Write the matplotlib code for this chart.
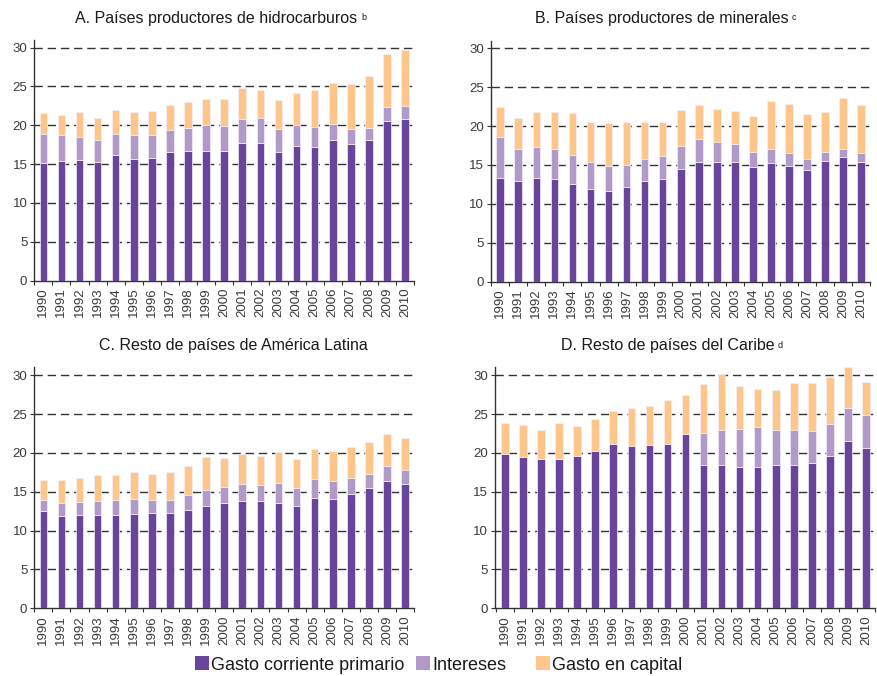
import numpy as np
import matplotlib
matplotlib.use("Agg")
import matplotlib.pyplot as plt
from matplotlib.patches import Patch

plt.rcParams['font.family'] = ['Liberation Sans', 'DejaVu Sans']

years = [str(y) for y in range(1990, 2011)]

# A. Países productores de hidrocarburos
a_corriente = [15.2, 15.4, 15.5, 15.3, 16.2, 15.7, 15.8, 16.6, 16.7, 16.7, 16.7,
               17.7, 17.7, 16.5, 17.3, 17.25, 18.1, 17.6, 18.1, 20.5, 20.8]
a_intereses = [3.7, 3.35, 3.0, 2.85, 2.7, 3.05, 3.0, 2.8, 2.9, 3.4, 3.25,
               3.1, 3.2, 3.0, 2.7, 2.55, 2.1, 1.9, 1.55, 1.8, 1.7]
a_capital = [2.7, 2.55, 3.2, 2.85, 3.1, 2.95, 3.05, 3.2, 3.4, 3.25, 3.45,
             3.95, 3.7, 3.7, 4.15, 4.75, 5.25, 5.8, 6.75, 6.9, 7.2]

# B. Países productores de minerales
b_corriente = [13.3, 12.95, 13.33, 13.2, 12.56, 11.9, 11.66, 12.17, 12.9, 13.2, 14.44,
               15.35, 15.4, 15.4, 14.8, 15.26, 14.9, 14.4, 15.5, 16.0, 15.4]
b_intereses = [5.3, 4.1, 3.99, 3.9, 3.73, 3.5, 3.17, 2.79, 2.83, 2.96, 2.96,
               2.95, 2.6, 2.3, 1.9, 1.84, 1.65, 1.4, 1.17, 1.1, 1.15]
b_capital = [3.85, 4.0, 4.54, 4.76, 5.36, 5.1, 5.57, 5.54, 4.77, 4.41, 4.7,
             4.4, 4.16, 4.25, 4.65, 6.1, 6.35, 5.8, 5.1, 6.5, 6.21]

# C. Resto de países de América Latina
c_corriente = [12.5, 11.9, 11.96, 11.96, 11.96, 12.17, 12.3, 12.3, 12.64, 13.2, 13.54,
               13.84, 13.8, 13.6, 13.2, 14.23, 14.1, 14.74, 15.5, 16.4, 16.0]
c_intereses = [1.47, 1.65, 1.74, 1.84, 1.97, 1.93, 1.67, 1.67, 1.93, 1.97, 2.06,
               2.19, 2.06, 2.56, 2.3, 2.44, 2.27, 2.02, 1.77, 1.9, 1.83]
c_capital = [2.58, 2.95, 3.1, 3.35, 3.17, 3.4, 3.33, 3.53, 3.69, 4.29, 3.8,
             3.82, 3.69, 3.94, 3.7, 3.78, 3.83, 3.94, 4.13, 4.07, 4.12]

# D. Resto de países del Caribe
d_corriente = [19.8, 19.5, 19.24, 19.2, 19.54, 20.2, 21.2, 20.9, 21.0, 21.1, 22.4,
               18.5, 18.5, 18.13, 18.2, 18.5, 18.4, 18.7, 19.6, 21.5, 20.6]
d_intereses = [0, 0, 0, 0, 0, 0, 0, 0, 0, 0, 0,
               4.04, 4.4, 4.93, 5.07, 4.5, 4.5, 4.1, 4.1, 4.26, 4.3]
d_capital = [4.0, 4.1, 3.73, 4.6, 3.96, 4.2, 4.13, 4.9, 5.06, 5.65, 5.1,
             6.31, 7.3, 5.61, 4.93, 5.1, 6.1, 6.2, 6.1, 5.34, 4.2]

series_names = ['Gasto corriente primario', 'Intereses', 'Gasto en capital']
colors = ['#68449a', '#b09ac8', '#fec68a']
edge = '#f4eef8'

panels = [
    ('A. Países productores de hidrocarburos', 'b', a_corriente, a_intereses, a_capital),
    ('B. Países productores de minerales', 'c', b_corriente, b_intereses, b_capital),
    ('C. Resto de países de América Latina', '', c_corriente, c_intereses, c_capital),
    ('D. Resto de países del Caribe', 'd', d_corriente, d_intereses, d_capital),
]

W, H = 877, 676
fig = plt.figure(figsize=(W / 100, H / 100), dpi=100)

# axes rectangles in pixels: left, zero line (from top), width, height
rects = [
    (34.3, 280.7, 379.8, 240.9),
    (491.0, 281.7, 379.3, 241.2),
    (34.3, 608.3, 379.8, 240.9),
    (495.0, 608.3, 380.0, 240.9),
]
xlims = [(-0.5, 20.4), (-0.51, 20.39), (-0.5, 20.4), (-0.55, 20.39)]
title_pos = [(216.5, 18), (661.5, 18), (233.5, 346), (667.5, 346)]

tick_color = '#3a3a3a'
for (title, sup, cor, inte, cap), (l, b0, w, h), xl, (tx, ty) in zip(panels, rects, xlims, title_pos):
    ax = fig.add_axes([l / W, 1 - b0 / H, w / W, h / H])
    x = np.arange(len(years))
    cor = np.array(cor)
    inte = np.array(inte)
    cap = np.array(cap)
    bw = 0.42
    ax.bar(x, cor, bw, color=colors[0], edgecolor=edge, linewidth=0.5, zorder=3)
    ax.bar(x, inte, bw, bottom=cor, color=colors[1], edgecolor=edge, linewidth=0.5, zorder=3)
    ax.bar(x, cap, bw, bottom=cor + inte, color=colors[2], edgecolor=edge, linewidth=0.5, zorder=3)

    ax.set_xlim(*xl)
    ax.set_ylim(0, 31)
    ax.set_yticks(range(0, 31, 5))
    for yv in range(5, 31, 5):
        ax.axhline(yv, color='#333333', linewidth=1.0, dashes=(6, 3.5), zorder=2)

    ax.set_xticks(x)
    ax.set_xticklabels(years, rotation=90, fontsize=9.5, color=tick_color)
    ax.set_xticks(np.arange(-0.5, len(years), 1), minor=True)
    ax.tick_params(axis='x', which='major', length=0, pad=5)
    ax.tick_params(axis='x', which='minor', length=3, direction='out', color='#333333', width=0.8)
    ax.tick_params(axis='y', length=3, direction='out', color='#333333', width=0.8,
                   labelsize=9.5, labelcolor=tick_color, pad=2)

    for s in ['top', 'right']:
        ax.spines[s].set_visible(False)
    for s in ['left', 'bottom']:
        ax.spines[s].set_color('#333333')
        ax.spines[s].set_linewidth(1.0)

    t = fig.text(tx / W, 1 - ty / H, title, ha='center', va='center', fontsize=11.5, color='#1a1a1a')
    if sup:
        ax.annotate(sup, xy=(1, 1), xycoords=t, xytext=(2.5, -1.5), textcoords='offset points',
                    ha='left', va='top', fontsize=6.5, color='#1a1a1a')

# one legend entry per series, each anchored at its own left edge
legend_x = [195, 416, 536]
for name, c, lx in zip(series_names, colors, legend_x):
    leg = fig.legend([Patch(facecolor=c, edgecolor='none')], [name], loc='center left',
                     bbox_to_anchor=(lx / W, 1 - 665 / H), frameon=False, fontsize=13,
                     handlelength=0.8, handleheight=0.8, handletextpad=0.1,
                     borderpad=0, borderaxespad=0, labelcolor='#1a1a1a')

fig.savefig('out.png', dpi=100)
